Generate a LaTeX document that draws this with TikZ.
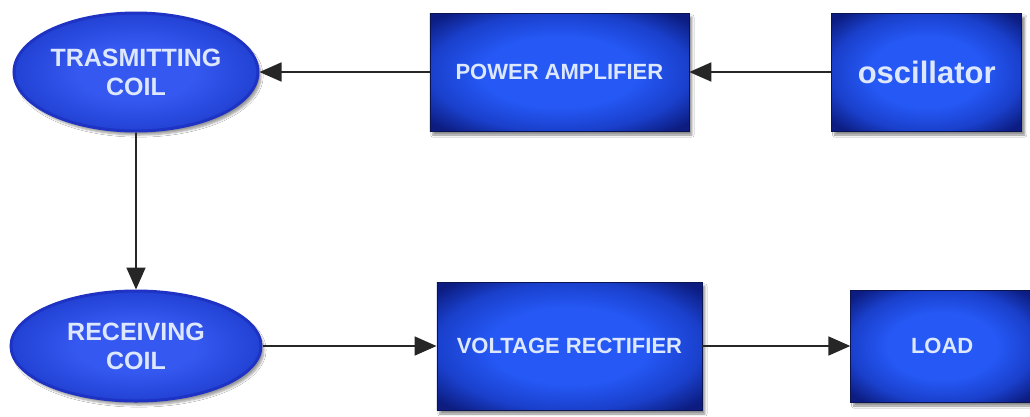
\documentclass[tikz,border=0pt]{standalone}
\usepackage{fontspec}
\setmainfont{Liberation Sans}
\usetikzlibrary{arrows.meta,positioning,shapes.geometric,shadows.blur}
\definecolor{boxin}{HTML}{2558F5}
\definecolor{boxmid}{HTML}{1A40CC}
\definecolor{boxout}{HTML}{0C1C80}
\definecolor{boxline}{HTML}{0A1450}
\definecolor{coilin}{HTML}{3558F0}
\definecolor{coilout}{HTML}{2242D4}
\definecolor{coilrim}{HTML}{1E33C4}
\definecolor{labelc}{HTML}{DDE8FF}
\pgfdeclareradialshading{boxglow}{\pgfpoint{0bp}{0bp}}{color(0bp)=(boxin); color(15bp)=(boxin); color(25bp)=(boxmid); color(33bp)=(boxout); color(50bp)=(boxout)}
\pgfdeclareradialshading{coilglow}{\pgfpoint{0bp}{0bp}}{color(0bp)=(coilin); color(12bp)=(coilin); color(25bp)=(coilout); color(50bp)=(coilout)}
\begin{document}
\begin{tikzpicture}[x=1pt,y=-1pt,
 every node/.style={align=center,font=\bfseries,text=labelc,inner sep=0pt},
 box/.style={rectangle,draw=boxline,line width=0.8pt,shading=boxglow,
  blur shadow={shadow xshift=3pt,shadow yshift=-4pt,shadow opacity=45,shadow blur steps=6}},
 coil/.style={ellipse,draw=coilrim,line width=3pt,shading=coilglow,
  blur shadow={shadow xshift=3pt,shadow yshift=-4pt,shadow opacity=40,shadow blur steps=6}},
 arr/.style={draw=black!85,line width=1.8pt,-{Triangle[length=22pt,width=19pt]}}]
\useasboundingbox[fill=white] (0,0) rectangle (1030,416);
\node[coil,minimum width=244pt,minimum height=118pt,font=\bfseries\fontsize{25}{29}\selectfont] (tc) at (136,72) {TRASMITTING\\COIL};
\node[box,right=170pt of tc,minimum width=259pt,minimum height=118pt,font=\bfseries\fontsize{22}{26}\selectfont] (pa) {POWER AMPLIFIER};
\node[box,right=142pt of pa,minimum width=190pt,minimum height=118pt,font=\bfseries\fontsize{31}{36}\selectfont] (osc) {oscillator};
\node[coil,below=157pt of tc,minimum width=250pt,minimum height=110pt,font=\bfseries\fontsize{25}{29}\selectfont] (rc) {RECEIVING\\COIL};
\node[box,right=174pt of rc,minimum width=265pt,minimum height=128pt,font=\bfseries\fontsize{22}{26}\selectfont] (vr) {VOLTAGE RECTIFIER};
\node[box,right=148pt of vr,minimum width=183pt,minimum height=112pt,font=\bfseries\fontsize{22}{26}\selectfont] (load) {LOAD};
\draw[arr] (osc)--(pa);
\draw[arr] (pa)--(tc);
\draw[arr] (tc)--(rc);
\draw[arr] (rc)--(vr);
\draw[arr] (vr)--(load);
\end{tikzpicture}
\end{document}
